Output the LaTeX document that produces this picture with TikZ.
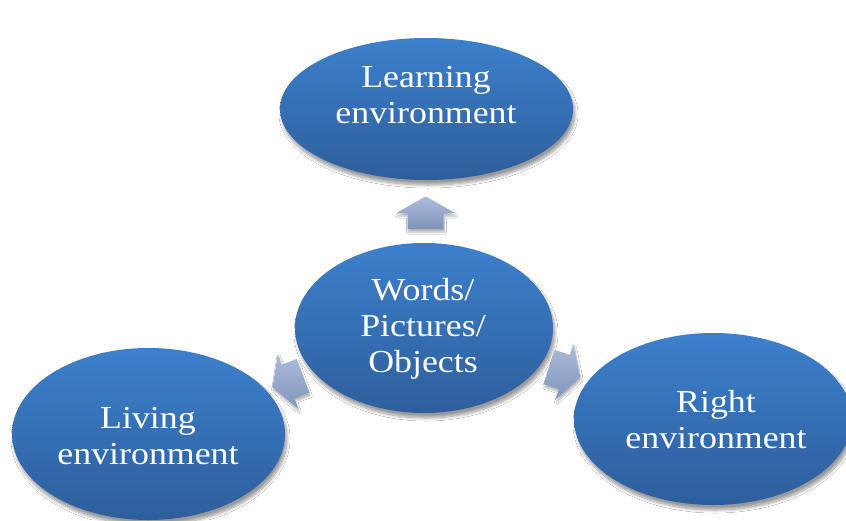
\documentclass[tikz,border=0pt]{standalone}
\usepackage{fontspec}
\setmainfont{Liberation Serif}[FakeStretch=1.12]
\usetikzlibrary{shapes.geometric,shadows.blur}
\definecolor{bubtop}{RGB}{60,128,204}
\definecolor{bubbot}{RGB}{46,94,156}
\definecolor{arrtop}{RGB}{172,187,219}
\definecolor{arrbot}{RGB}{128,148,188}
\tikzset{
  bubble/.style={ellipse, inner sep=0pt, draw=none,
    top color=bubtop, bottom color=bubbot,
    blur shadow={shadow xshift=2pt, shadow yshift=-5pt, shadow opacity=40,
      shadow blur radius=3pt, shadow blur steps=8}},
  bubtext/.style={text=white, align=center, inner sep=0pt,
    font=\fontsize{32}{36}\selectfont},
  blockarrow/.style={draw=none, top color=arrtop, bottom color=arrbot,
    blur shadow={shadow xshift=1pt, shadow yshift=-3pt, shadow opacity=30,
      shadow blur radius=2pt, shadow blur steps=6}}
}
\begin{document}
\begin{tikzpicture}[x=1pt,y=-1pt]
\fill[white] (0,0) rectangle (846,520);
\useasboundingbox (0,0) rectangle (846,520);

% bubbles
\node[bubble, minimum width=293pt, minimum height=142pt] (learn) at (426.5,109) {};
\node[bubble, minimum width=258pt, minimum height=170pt] (center) at (424,328) {};
\node[bubble, minimum width=273pt, minimum height=172pt] (living) at (148.5,434) {};
\node[bubble, minimum width=278pt, minimum height=172pt] (right) at (713,419) {};

% texts
\node[bubtext] (learnT) at (426,94.7) {Learning\\environment};
\node[bubtext] (centerT) at (423,328.5) {Words/\\Pictures/\\Objects};
\node[bubtext] (livingT) at (148,436.2) {Living\\environment};
\node[bubtext] (rightT) at (716,419.2) {Right\\environment};

% block arrows
\coordinate (upA) at (425.5,213);
\coordinate (leftA) at (288,381.5);
\coordinate (rightA) at (564.5,372);
\foreach \c/\a in {upA/90, leftA/200.7, rightA/-18.1}{
  \begin{scope}[shift={(\c)}, rotate=\a]
    \path[blockarrow] (-16,-18) -- (0,-18) -- (0,-29) -- (16.5,0) -- (0,29) -- (0,18) -- (-16,18) -- cycle;
  \end{scope}
}
\end{tikzpicture}
\end{document}
